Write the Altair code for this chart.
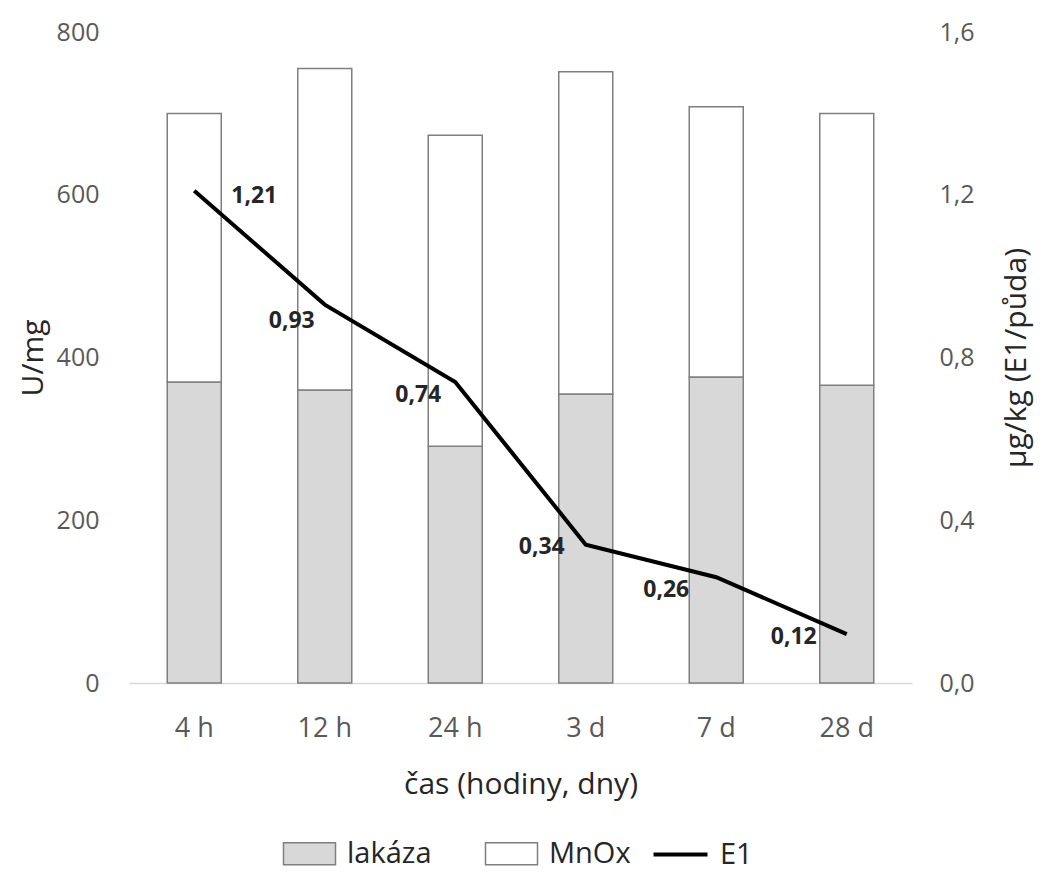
import altair as alt
import pandas as pd

# ---- data ----
categories = ["4 h", "12 h", "24 h", "3 d", "7 d", "28 d"]
lakaza = [370, 360, 291, 355, 376, 366]
mnox = [330, 395, 382, 396, 332, 334]
e1 = [1.21, 0.93, 0.74, 0.34, 0.26, 0.12]
e1_labels = ["1,21", "0,93", "0,74", "0,34", "0,26", "0,12"]
left_ticks = [0, 200, 400, 600, 800]
right_ticks = [0, 0.4, 0.8, 1.2, 1.6]

bars_df = pd.DataFrame({
    "cas": categories * 2,
    "serie": ["lakáza"] * len(categories) + ["MnOx"] * len(categories),
    "hodnota": lakaza + mnox,
    "poradi": [0] * len(categories) + [1] * len(categories),
})
line_df = pd.DataFrame({"cas": categories, "E1": e1, "label": e1_labels,
                        "serie": ["E1"] * len(categories)})

# ---- style ----
FONT = "Open Sans"
TICK_COLOR = "#595959"
TITLE_COLOR = "#262626"
# label placement per point: (dx, dy, align)
label_style = [(37, 5, "left"), (-10, 16, "right"), (-14, 13, "right"),
               (-21, 2, "right"), (-27, 13, "right"), (-30, 3, "right")]

x_enc = alt.X(
    "cas:N", sort=categories,
    scale=alt.Scale(paddingInner=0, paddingOuter=0),
    axis=alt.Axis(title="čas (hodiny, dny)", labelAngle=0, ticks=False,
                  domainColor="#d9d9d9", domainWidth=1.5,
                  labelFont=FONT, labelFontSize=27, labelColor=TICK_COLOR,
                  labelPadding=32, titleFont=FONT, titleFontSize=30,
                  titleFontWeight="normal", titleColor=TITLE_COLOR,
                  titlePadding=28),
)

bars = alt.Chart(bars_df).mark_bar(size=54, stroke="#7f7f7f", strokeWidth=1.5).encode(
    x=x_enc,
    y=alt.Y("hodnota:Q", stack="zero",
            scale=alt.Scale(domain=[0, 800]),
            axis=alt.Axis(values=left_ticks, title="U/mg", grid=False,
                          domain=False, ticks=False, labelFont=FONT,
                          labelFontSize=25, labelColor=TICK_COLOR,
                          labelPadding=30, titleFont=FONT, titleFontSize=30,
                          titleFontWeight="normal", titleColor=TITLE_COLOR,
                          titlePadding=8)),
    fill=alt.Fill("serie:N",
                  scale=alt.Scale(domain=["lakáza", "MnOx"], range=["#d8d8d8", "#ffffff"]),
                  legend=alt.Legend(title=None, orient="none", direction="horizontal",
                                    legendX=166, legendY=807,
                                    symbolType="M-2,-0.85H2V0.85H-2Z", symbolSize=676,
                                    symbolStrokeColor="#7f7f7f", symbolStrokeWidth=1.5,
                                    symbolOpacity=1,
                                    labelFont=FONT, labelFontSize=29,
                                    labelColor=TITLE_COLOR, labelOffset=23,
                                    columnPadding=50)),
    order=alt.Order("poradi:Q"),
)

y_right = alt.Y("E1:Q", scale=alt.Scale(domain=[0, 1.6]),
                axis=alt.Axis(orient="right", values=right_ticks,
                              labelExpr="replace(format(datum.value, '.1f'), '.', ',')",
                              title="µg/kg (E1/půda)", titleAngle=270, grid=False,
                              domain=False, ticks=False, labelFont=FONT,
                              labelFontSize=25, labelColor=TICK_COLOR,
                              labelPadding=27, titleFont=FONT, titleFontSize=30,
                              titleFontWeight="normal", titleColor=TITLE_COLOR,
                              titlePadding=57))

line = alt.Chart(line_df).mark_line(strokeWidth=4).encode(
    x=x_enc,
    y=y_right,
    stroke=alt.Stroke("serie:N", scale=alt.Scale(domain=["E1"], range=["#000000"]),
                      legend=alt.Legend(title=None, orient="none", direction="horizontal",
                                        legendX=536, legendY=807,
                                        symbolType="M-2,0H2", symbolSize=729,
                                        symbolStrokeWidth=4, symbolStrokeColor="#000000",
                                        labelFont=FONT, labelFontSize=29,
                                        labelColor=TITLE_COLOR, labelOffset=24)),
)

texts = []
for cat, (dx, dy, align) in zip(categories, label_style):
    texts.append(
        alt.Chart(line_df).transform_filter(alt.datum.cas == cat)
        .mark_text(font=FONT, fontSize=23, fontWeight="bold", color=TITLE_COLOR,
                   dx=dx, dy=dy, align=align, baseline="middle")
        .encode(x=x_enc, y=y_right, text="label:N")
    )

right_layer = alt.layer(line, *texts)

chart = alt.layer(bars, right_layer).resolve_scale(
    y="independent", fill="independent", stroke="independent"
).properties(
    width=783, height=651, background="white",
    padding={"top": 12, "left": 10, "right": 4, "bottom": 0}
).configure_view(strokeWidth=0)

chart.save("out.html", embed_options={"renderer": "svg", "actions": False})
